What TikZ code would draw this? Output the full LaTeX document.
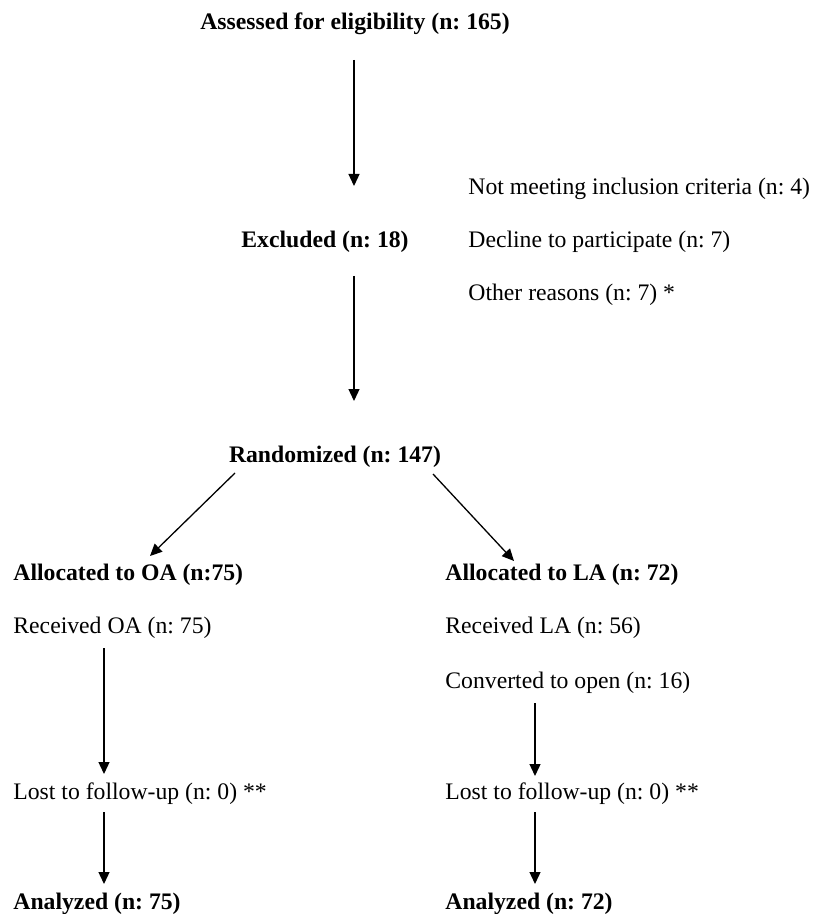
\documentclass[tikz,border=0pt]{standalone}
\usepackage{fontspec}
\setmainfont{Liberation Serif}
\usetikzlibrary{arrows.meta}
\frenchspacing
\begin{document}
\begin{tikzpicture}[x=0.5pt,y=-0.5pt,
  lbl/.style={inner sep=0pt, font=\fontsize{11.85pt}{14pt}\selectfont},
  blbl/.style={inner sep=0pt, font=\fontsize{11.85pt}{14pt}\selectfont\bfseries},
  arr/.style={line width=0.65pt, -{Triangle[length=6pt,width=5.5pt]}}]
\useasboundingbox (0,0) rectangle (822,914);
% texts
\node[blbl, anchor=base] (assess) at (355,30) {Assessed for eligibility (n: 165)};
\node[lbl, anchor=base west] (notmeet) at (468,195) {Not meeting inclusion criteria (n: 4)};
\node[blbl, anchor=base] (excl) at (325,248) {Excluded (n: 18)};
\node[lbl, anchor=base west] (decline) at (468,248) {Decline to participate (n: 7)};
\node[lbl, anchor=base west] (other) at (468,300) {Other reasons (n: 7) *};
\node[blbl, anchor=base] (rand) at (335,462) {Randomized (n: 147)};
\node[blbl, anchor=base west] (allocOA) at (13,580) {Allocated to OA (n:75)};
\node[blbl, anchor=base west] (allocLA) at (445,580) {Allocated to LA (n: 72)};
\node[lbl, anchor=base west] (recOA) at (13,633) {Received OA (n: 75)};
\node[lbl, anchor=base west] (recLA) at (445,633) {Received LA (n: 56)};
\node[lbl, anchor=base west] (conv) at (445,688) {Converted to open (n: 16)};
\node[lbl, anchor=base west] (lostOA) at (13,799) {Lost to follow-up (n: 0) **};
\node[lbl, anchor=base west] (lostLA) at (445,799) {Lost to follow-up (n: 0) **};
\node[blbl, anchor=base west] (anaOA) at (13,909) {Analyzed (n: 75)};
\node[blbl, anchor=base west] (anaLA) at (445,909) {Analyzed (n: 72)};
% connector ends
\coordinate (a1s) at (354,60);   \coordinate (a1e) at (354,186);
\coordinate (a2s) at (354,276);  \coordinate (a2e) at (354,401);
\coordinate (dls) at (235,473);  \coordinate (dle) at (150,556);
\coordinate (drs) at (433,474);  \coordinate (dre) at (514,561);
\coordinate (l3s) at (104,648);  \coordinate (l3e) at (104,774);
\coordinate (l4s) at (104,812);  \coordinate (l4e) at (104,884);
\coordinate (r3s) at (535,703);  \coordinate (r3e) at (535,776);
\coordinate (r4s) at (535,812);  \coordinate (r4e) at (535,884);
% connectors
\draw[arr] (a1s) -- (a1e);
\draw[arr] (a2s) -- (a2e);
\draw[arr] (dls) -- (dle);
\draw[arr] (drs) -- (dre);
\draw[arr] (l3s) -- (l3e);
\draw[arr] (l4s) -- (l4e);
\draw[arr] (r3s) -- (r3e);
\draw[arr] (r4s) -- (r4e);
\end{tikzpicture}
\end{document}
